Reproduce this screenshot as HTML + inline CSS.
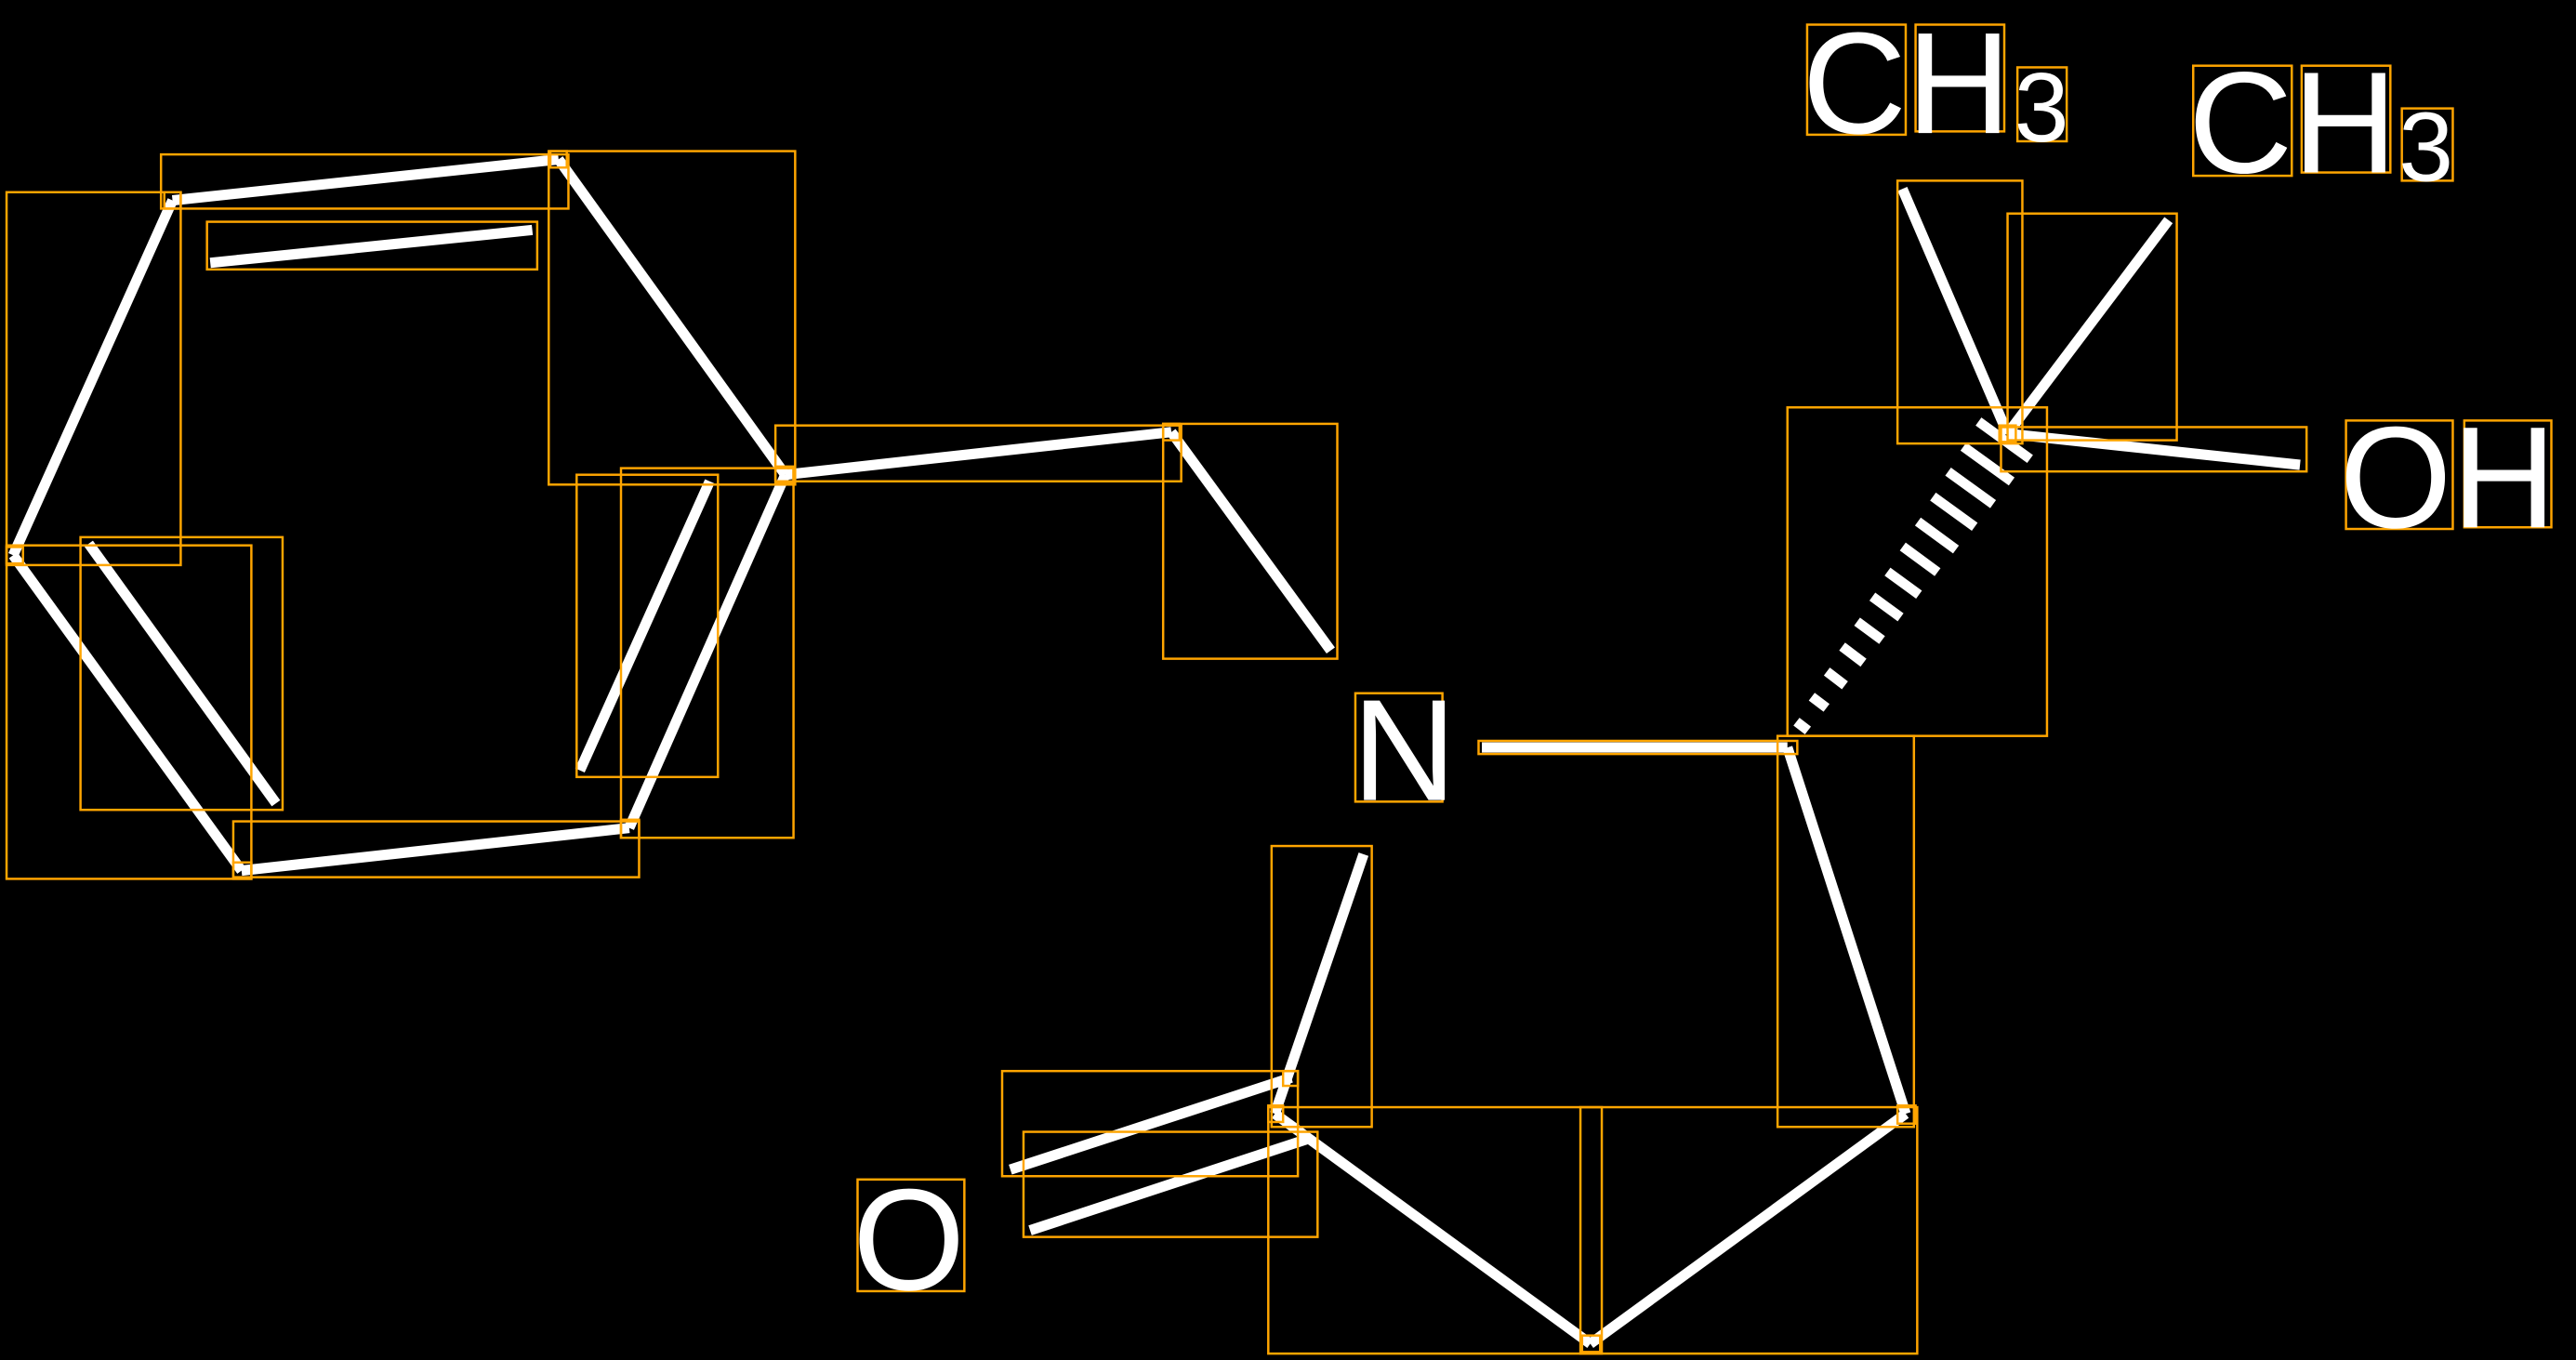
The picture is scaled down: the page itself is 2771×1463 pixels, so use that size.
<!DOCTYPE html>
<html><head><meta charset="utf-8"><style>
html,body{margin:0;padding:0;background:#000;width:2771px;height:1463px;overflow:hidden}
svg{display:block}
text{font-family:"Liberation Sans",sans-serif;fill:#fff}
</style></head><body>
<svg width="2771" height="1463" viewBox="0 0 1568 827.9" preserveAspectRatio="none" xmlns="http://www.w3.org/2000/svg">
<rect width="1568" height="828" fill="#000"/>
<g stroke="#fff" stroke-width="6.3" fill="none">
<line x1="105" y1="122" x2="340" y2="97"/>
<line x1="340" y1="97" x2="478" y2="289"/>
<line x1="478" y1="289" x2="383" y2="504"/>
<line x1="383" y1="504" x2="147" y2="530"/>
<line x1="147" y1="530" x2="8" y2="338"/>
<line x1="8" y1="338" x2="105" y2="122"/>
<line x1="128" y1="160" x2="324" y2="140"/>
<line x1="54" y1="331" x2="168" y2="489"/>
<line x1="353" y1="469" x2="432" y2="293"/>
<line x1="478" y1="289" x2="713" y2="263"/>
<line x1="713" y1="263" x2="810" y2="396"/>
<line x1="902" y1="455" x2="1088" y2="455"/>
<line x1="1088" y1="455" x2="1160" y2="678"/>
<line x1="1160" y1="678" x2="968" y2="818"/>
<line x1="968" y1="818" x2="776" y2="678"/>
<line x1="776" y1="678" x2="830" y2="520"/>
<line x1="615" y1="712" x2="786" y2="656"/>
<line x1="627" y1="749" x2="797" y2="693"/>
<line x1="1222" y1="264" x2="1158" y2="115"/>
<line x1="1222" y1="264" x2="1320" y2="134"/>
<line x1="1222" y1="264" x2="1400" y2="283"/>
</g>
<g stroke="#fff" stroke-width="6">
<line x1="1093.5" y1="439.3" x2="1100.5" y2="444.7"/>
<line x1="1102.8" y1="424.1" x2="1111.8" y2="430.9"/>
<line x1="1112" y1="408.8" x2="1123" y2="417.2"/>
<line x1="1121.3" y1="393.6" x2="1134.3" y2="403.4"/>
<line x1="1130.4" y1="378.4" x2="1145.6" y2="389.6"/>
<line x1="1139.7" y1="363.2" x2="1156.9" y2="375.8"/>
<line x1="1148.9" y1="348" x2="1168.1" y2="362"/>
<line x1="1158.2" y1="332.7" x2="1179.4" y2="348.3"/>
<line x1="1167.4" y1="317.5" x2="1190.6" y2="334.5"/>
<line x1="1176.6" y1="302.3" x2="1202" y2="320.7"/>
<line x1="1185.8" y1="287.1" x2="1213.2" y2="306.9"/>
<line x1="1195.1" y1="271.9" x2="1224.5" y2="293.1"/>
<line x1="1204.3" y1="256.6" x2="1235.7" y2="279.4"/>
</g>
<g stroke="#ffa500" stroke-width="1.4" fill="none">
<rect x="98" y="94" width="248" height="33"/>
<rect x="4" y="117" width="106" height="227"/>
<rect x="126" y="135" width="201" height="29"/>
<rect x="334" y="92" width="150" height="203"/>
<rect x="472" y="259" width="247" height="34"/>
<rect x="708" y="258" width="106" height="143"/>
<rect x="351" y="289" width="86" height="184"/>
<rect x="378" y="285" width="105" height="225"/>
<rect x="49" y="327" width="123" height="166"/>
<rect x="4" y="332" width="149" height="203"/>
<rect x="142" y="500" width="247" height="34"/>
<rect x="825" y="422" width="53" height="66"/>
<rect x="900" y="451" width="194" height="8"/>
<rect x="1088" y="248" width="158" height="200"/>
<rect x="1082" y="448" width="83" height="238"/>
<rect x="774" y="515" width="61" height="171"/>
<rect x="610" y="652" width="180" height="64"/>
<rect x="623" y="689" width="179" height="64"/>
<rect x="772" y="674" width="203" height="150"/>
<rect x="962" y="674" width="205" height="150"/>
<rect x="522" y="718" width="65" height="68"/>
<rect x="1155" y="110" width="76" height="160"/>
<rect x="1222" y="130" width="103" height="138"/>
<rect x="1218" y="260" width="186" height="27"/>
<rect x="1428" y="256" width="65" height="66"/>
<rect x="1500" y="256" width="53" height="65"/>
<rect x="1100" y="15" width="60" height="67"/>
<rect x="1166" y="15" width="54" height="65"/>
<rect x="1228" y="41" width="30" height="45"/>
<rect x="1335" y="40" width="60" height="67"/>
<rect x="1401" y="40" width="54" height="65"/>
<rect x="1462" y="66" width="31" height="44"/>
<rect x="100" y="117" width="10" height="10"/>
<rect x="335" y="92" width="10" height="10"/>
<rect x="472" y="284" width="11" height="10"/>
<rect x="378" y="499" width="11" height="11"/>
<rect x="142" y="525" width="11" height="10"/>
<rect x="4" y="333" width="10" height="10"/>
<rect x="708" y="258" width="10" height="10"/>
<rect x="1217" y="259" width="10" height="10"/>
<rect x="1155" y="673" width="11" height="11"/>
<rect x="963" y="813" width="11" height="10"/>
<rect x="772" y="673" width="9" height="10"/>
<rect x="781" y="652" width="9" height="9"/>
</g>
<g font-size="88">
<text x="823" y="487">N</text>
<text x="519" y="785">O</text>
<text x="1424" y="321">OH</text>
<text x="1097" y="81">CH</text>
<text x="1332" y="105">CH</text>
</g>
<g font-size="60">
<text x="1226" y="86">3</text>
<text x="1460" y="110">3</text>
</g>
</svg>
</body></html>
